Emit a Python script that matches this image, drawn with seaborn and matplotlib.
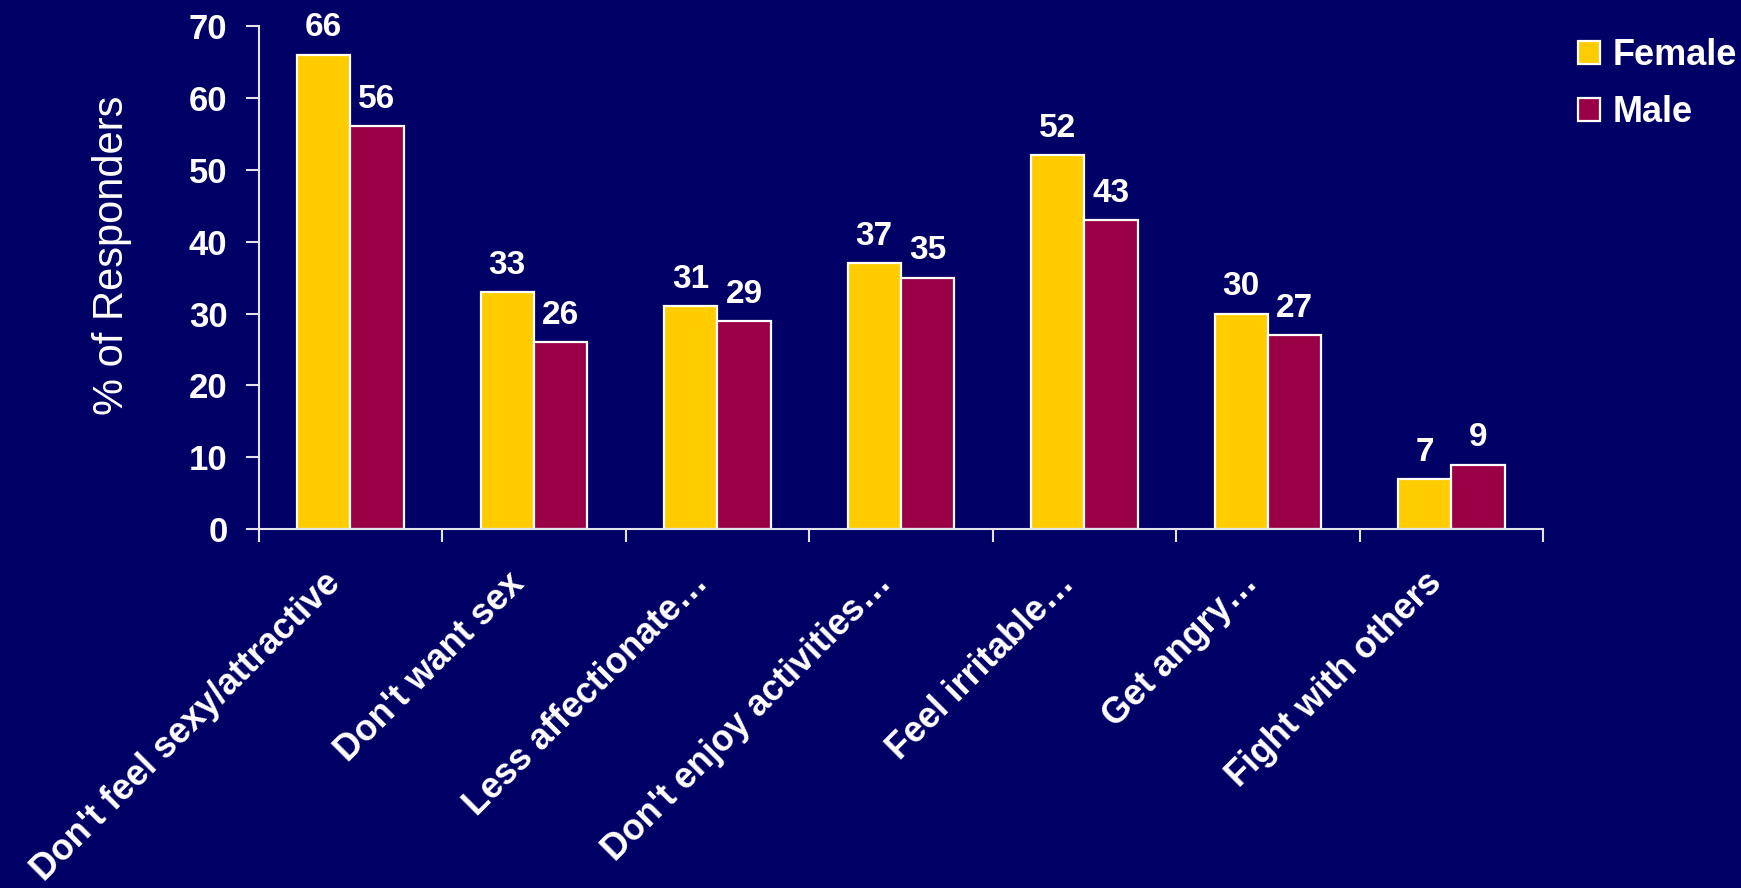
import numpy as np
import pandas as pd
import matplotlib
matplotlib.use("Agg")
import matplotlib.pyplot as plt
import matplotlib.transforms as mtransforms
import seaborn as sns

categories = ["Don't feel sexy/attractive", "Don't want sex", "Less affectionate\u2026",
              "Don't enjoy activities\u2026", "Feel irritable\u2026", "Get angry\u2026",
              "Fight with others"]
female = [66, 33, 31, 37, 52, 30, 7]
male = [56, 26, 29, 35, 43, 27, 9]
series_names = ["Female", "Male"]
y_ticks = [0, 10, 20, 30, 40, 50, 60, 70]
y_label = "% of Responders"

BG = "#000066"
COLORS = {"Female": "#FFCC00", "Male": "#990046"}
AXIS_COLOR = "#E4E4EC"

df = pd.DataFrame({
    "category": categories * 2,
    "sex": [series_names[0]] * len(categories) + [series_names[1]] * len(categories),
    "value": female + male,
})

sns.set_theme(style="white")
plt.rcParams["font.family"] = ["Liberation Sans", "DejaVu Sans"]

fig = plt.figure(figsize=(17.41, 8.88), dpi=100, facecolor=BG)
ax = fig.add_axes([0.1486, 0.4039, 0.7377, 0.5671])
ax.set_facecolor(BG)

sns.barplot(data=df, x="category", y="value", hue="sex", order=categories,
            hue_order=series_names, palette=COLORS, width=0.58, saturation=1,
            edgecolor="white", linewidth=1.6, ax=ax, errorbar=None)

for cont in ax.containers:
    ax.bar_label(cont, labels=[f"{v:.0f}" for v in cont.datavalues], padding=8,
                 color="white", fontsize=24, fontweight="bold")

ax.set_ylim(0, 70)
ax.set_xlim(-0.5, len(categories) - 0.5)
ax.set_yticks(y_ticks)
ax.set_yticklabels([str(t) for t in y_ticks], color="white", fontsize=25, fontweight="bold")
ax.tick_params(axis="y", which="major", direction="out", length=9.5, width=1.5,
               color=AXIS_COLOR, pad=13, left=True)

ax.set_xticks(np.arange(len(categories)))
ax.set_xticklabels(categories, rotation=45, ha="right", va="center",
                   rotation_mode="anchor", color="white", fontsize=25.8, fontweight="bold")
ax.set_xticks(np.arange(-0.5, len(categories), 1.0), minor=True)
ax.tick_params(axis="x", which="major", length=0, pad=35)
ax.tick_params(axis="x", which="minor", direction="out", length=9, width=1.5,
               color=AXIS_COLOR, bottom=True)
offset = mtransforms.ScaledTranslation(-15 / 100, 0, fig.dpi_scale_trans)
for lab in ax.get_xticklabels():
    lab.set_transform(lab.get_transform() + offset)

ax.set_xlabel("")
ax.set_ylabel(y_label, color="white", fontsize=30)
ax.yaxis.set_label_coords(-0.099, 0.545)

for side in ["top", "right"]:
    ax.spines[side].set_visible(False)
for side in ["left", "bottom"]:
    ax.spines[side].set_color(AXIS_COLOR)
    ax.spines[side].set_linewidth(1.5)

handles, labels = ax.get_legend_handles_labels()
if ax.legend_:
    ax.legend_.remove()
leg = fig.legend(handles, labels, loc="upper left", bbox_to_anchor=(0.9064, 0.957),
                 frameon=False, prop={"weight": "bold", "size": 26},
                 handlelength=0.6, handleheight=0.6, handletextpad=0.36,
                 labelspacing=0.6, borderpad=0, borderaxespad=0)
for t in leg.get_texts():
    t.set_color("white")
for h in leg.legend_handles:
    h.set_edgecolor("white")
    h.set_linewidth(1.6)

fig.savefig("out.png", dpi=100, facecolor=BG)
